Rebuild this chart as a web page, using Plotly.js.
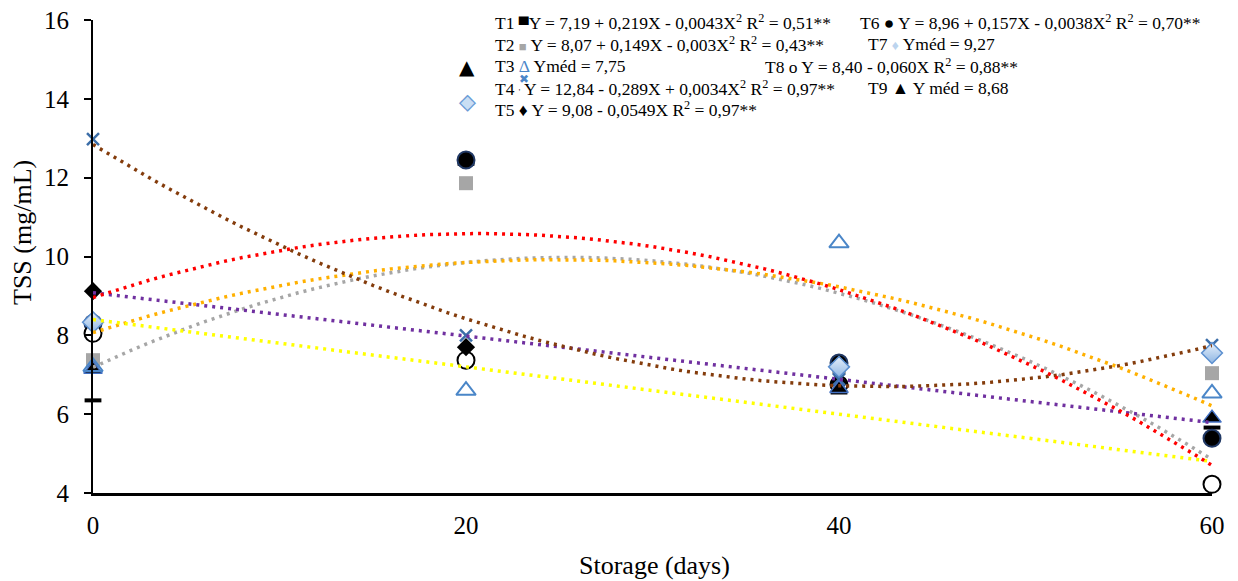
<!DOCTYPE html>
<html>
<head>
<meta charset="utf-8">
<script src="https://cdn.plot.ly/plotly-3.0.1.min.js"></script>
<style>html,body{margin:0;padding:0;background:#fff;}#chart{width:1238px;height:581px;}</style>
</head>
<body>
<div id="chart"></div>
<script>
// ---- data ----
const days = [0, 20, 40, 60];
const t1 = [6.35, 12.35, 6.55, 5.66];
const t2 = [7.37, 11.86, 7.2, 7.04];
const t3 = [7.2, 6.6, 10.34, 6.53];
const t4 = [12.98, 8.0, 6.88, 7.75];
const t5 = [9.12, 7.7, 6.8, null];
const t6 = [8.3, 12.45, 7.3, 5.39];
const t7 = [8.33, null, 7.2, 7.55];
const t8 = [8.05, 7.37, 6.75, 4.22];
const t9 = [7.14, null, 6.65, 5.9];

// regression coefficients shown in the chart [a, b, c] for Y = a + bX + cX^2
const coefT1 = [7.19, 0.219, -0.0043];
const coefT2 = [8.07, 0.149, -0.003];
const coefT4 = [12.84, -0.289, 0.0034];
const coefT5 = [9.08, -0.0549, 0];
const coefT6 = [8.96, 0.157, -0.0038];
const coefT8 = [8.40, -0.060, 0];

const xTicks = [0, 20, 40, 60];
const yTicks = [4, 6, 8, 10, 12, 14, 16];

// ---- helpers ----
const FONT = "'Liberation Serif', 'Times New Roman', serif";
const L = 93, R = 1212, T = 20, B = 493;
const px = x => (x - L) / (R - L);
const py = y => (B - y) / (B - T);

const xs = [];
for (let x = 0; x <= 60; x += 1) xs.push(x);
function fit(c) { return xs.map(x => c[0] + c[1] * x + c[2] * x * x); }

function pts(name, y, marker) {
  return {x: days, y: y, name: name, mode: 'markers', type: 'scatter',
          marker: marker, cliponaxis: false, showlegend: false, hoverinfo: 'skip'};
}
function trend(c, color) {
  return {x: xs, y: fit(c), mode: 'lines', type: 'scatter', cliponaxis: false,
          line: {color: color, width: 3.5, dash: '3px,5px'}, showlegend: false, hoverinfo: 'skip'};
}

const traces = [
  pts('T1', t1, {symbol: 'line-ew-open', size: 12, color: '#000', line: {color: '#000', width: 4}}),
  pts('T2', t2, {symbol: 'square', size: 14, color: '#a6a6a6', line: {width: 0}}),
  pts('T6', t6, {symbol: 'circle', size: 17, color: '#000', line: {color: '#203864', width: 2}}),
  pts('T8', t8, {symbol: 'circle', size: 17, color: '#fff', line: {color: '#000', width: 2}}),
  pts('T5', t5, {symbol: 'diamond', size: 14, color: '#000', line: {width: 0}}),
  pts('T4', t4, {symbol: 'x-thin-open', size: 12, color: '#3c6ea8', line: {color: '#3c6ea8', width: 2.5}}),
  pts('T9', t9, {symbol: 'triangle-up', size: 16, color: '#000', line: {color: '#4472c4', width: 1.5}}),
  pts('T7', t7, {symbol: 'diamond', size: 16, color: '#e6f0fb', gradient: {type: 'vertical', color: '#8fb6e3'}, line: {color: '#5b8fcf', width: 1.5}}),
  pts('T3', t3, {symbol: 'triangle-up-open', size: 17, color: '#4a86c8', line: {color: '#4a86c8', width: 2}}),
  trend(coefT1, '#a6a6a6'),
  trend(coefT2, '#ffb000'),
  trend(coefT8, '#ffff00'),
  trend(coefT5, '#7030a0'),
  trend(coefT4, '#843c0c'),
  trend(coefT6, '#ff0000')
];

const LF = 17.5;
function ann(x, y, text, extra) {
  return Object.assign({xref: 'paper', yref: 'paper', x: px(x), y: py(y), xanchor: 'left', yanchor: 'middle',
    text: text, showarrow: false, font: {family: FONT, size: LF, color: '#000'}}, extra || {});
}
const sup2 = '<sup>2</sup>';
const annotations = [
  ann(493, 22, 'T1 <span style="font-size:14px">▀</span>Y = 7,19 + 0,219X - 0,0043X' + sup2 + ' R' + sup2 + ' = 0,51**'),
  ann(858, 22, 'T6 ● Y = 8,96 + 0,157X - 0,0038X' + sup2 + ' R' + sup2 + ' = 0,70**'),
  ann(493, 44, 'T2 <span style="color:#a6a6a6;font-size:13px">■</span> Y = 8,07 + 0,149X - 0,003X' + sup2 + ' R' + sup2 + ' = 0,43**'),
  ann(866, 44, 'T7 <span style="color:#bcd4ee;font-size:14px">♦</span> Yméd = 9,27'),
  ann(493, 66, 'T3 <span style="color:#4a86c8">Δ</span> Yméd = 7,75'),
  ann(763, 66, 'T8 o Y = 8,40 - 0,060X R' + sup2 + ' = 0,88**'),
  ann(493, 88, 'T4 <span style="font-size:8px">\'</span> Y = 12,84 - 0,289X + 0,0034X' + sup2 + ' R' + sup2 + ' = 0,97**'),
  ann(866, 88, 'T9 ▲ Y méd = 8,68'),
  ann(493, 109, 'T5 ♦ Y = 9,08 - 0,0549X R' + sup2 + ' = 0,97**'),
  ann(467, 67, '▲', {xanchor: 'center', font: {family: 'DejaVu Sans', size: 20, color: '#000'}}),
  ann(467, 102, '◆', {xanchor: 'center', font: {family: 'DejaVu Sans', size: 22, color: '#c9def4'}}),
  ann(467, 102, '◇', {xanchor: 'center', font: {family: 'DejaVu Sans', size: 22, color: '#6a9bd6'}}),
  ann(524, 79, '✖', {xanchor: 'center', font: {family: 'DejaVu Sans', size: 12, color: '#4a86c8'}}),
  // axis titles
  ann(654, 565, 'Storage (days)', {xanchor: 'center', font: {family: FONT, size: 26, color: '#000'}}),
  ann(22, 233, 'TSS (mg/mL)', {xanchor: 'center', textangle: -90, font: {family: FONT, size: 26, color: '#000'}})
];

const layout = {
  width: 1238, height: 581,
  margin: {l: L, r: 1238 - R, t: T, b: 581 - B},
  paper_bgcolor: '#fff', plot_bgcolor: '#fff',
  showlegend: false,
  font: {family: FONT, color: '#000'},
  xaxis: {
    range: [0, 60], tickvals: xTicks, ticktext: xTicks.map(String),
    showgrid: false, zeroline: false, showline: true, linecolor: '#000', linewidth: 2.5,
    ticks: '', ticklabelstandoff: 8,
    tickfont: {family: FONT, size: 25, color: '#000'},
    automargin: false, fixedrange: true
  },
  yaxis: {
    range: [4, 16], tickvals: yTicks, ticktext: yTicks.map(String),
    showgrid: false, zeroline: false, showline: true, linecolor: '#000', linewidth: 2,
    ticks: 'outside', ticklen: 7, tickwidth: 2, tickcolor: '#000', ticklabelstandoff: 10,
    tickfont: {family: FONT, size: 25, color: '#000'},
    automargin: false, fixedrange: true
  },
  annotations: annotations
};

Plotly.newPlot('chart', traces, layout, {staticPlot: true, displayModeBar: false});
</script>
</body>
</html>
